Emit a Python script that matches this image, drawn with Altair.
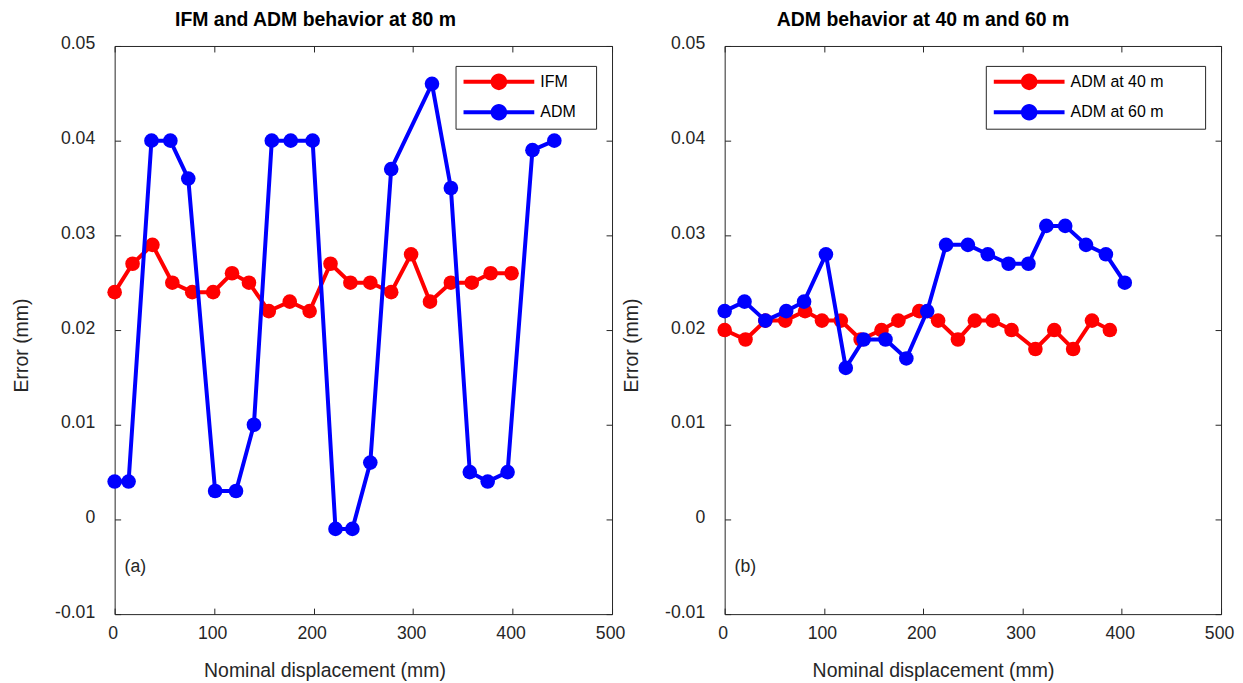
import altair as alt
import pandas as pd

# ---------------- data ----------------
ifm80_x = [0, 18, 38, 58, 78, 99, 118, 135, 155, 176, 196, 217, 237, 257, 278, 298, 317, 338, 359, 378, 399]
ifm80_y = [0.024, 0.027, 0.029, 0.025, 0.024, 0.024, 0.026, 0.025, 0.022, 0.023, 0.022,
           0.027, 0.025, 0.025, 0.024, 0.028, 0.023, 0.025, 0.025, 0.026, 0.026]

adm80_x = [0, 14, 37, 56, 74, 101, 122, 140, 158, 177, 199, 222, 239, 257, 278, 319, 338, 357, 375, 395, 420, 442]
adm80_y = [0.004, 0.004, 0.040, 0.040, 0.036, 0.003, 0.003, 0.010, 0.040, 0.040, 0.040,
           -0.001, -0.001, 0.006, 0.037, 0.046, 0.035, 0.005, 0.004, 0.005, 0.039, 0.040]

adm40_x = [0, 21, 41, 61, 81, 98, 117, 137, 158, 175, 196, 215, 235, 252, 270, 289, 313, 332, 351, 370, 388]
adm40_y = [0.020, 0.019, 0.021, 0.021, 0.022, 0.021, 0.021, 0.019, 0.020, 0.021, 0.022,
           0.021, 0.019, 0.021, 0.021, 0.020, 0.018, 0.020, 0.018, 0.021, 0.020]

adm60_x = [0, 20, 41, 62, 80, 102, 122, 140, 162, 183, 204, 223, 245, 265, 286, 306, 324, 343, 364, 384, 403]
adm60_y = [0.022, 0.023, 0.021, 0.022, 0.023, 0.028, 0.016, 0.019, 0.019, 0.017, 0.022,
           0.029, 0.029, 0.028, 0.027, 0.027, 0.031, 0.031, 0.029, 0.028, 0.025]

left_series = ["IFM", "ADM"]
right_series = ["ADM at 40 m", "ADM at 60 m"]
series_colors = ["#FF0000", "#0000FF"]

x_ticks = [0, 100, 200, 300, 400, 500]
y_ticks = [-0.01, 0.0, 0.01, 0.02, 0.03, 0.04, 0.05]

panel_titles = ["IFM and ADM behavior at 80 m", "ADM behavior at 40 m and 60 m"]
panel_tags = ["(a)", "(b)"]
tag_x = [10, 10]
tag_y = [-0.005, -0.005]

# ---------------- styling ----------------
FONT = "Liberation Sans"
AX = "#262626"


def legend_path(extent):
    # line (thin filled bar) + filled circle; trailing move-to sets the legend box width
    return ("M-5.46,-0.3077L5.46,-0.3077L5.46,0.3077L-5.46,0.3077Z"
            "M1.277,0A1.277,1.277,0,1,1,-1.277,0A1.277,1.277,0,1,1,1.277,0Z"
            "M%.2f,0" % extent)


def long_df(names, xs_list, ys_list):
    rows = []
    for n, xs, ys in zip(names, xs_list, ys_list):
        for xv, yv in zip(xs, ys):
            rows.append({"series": n, "x": xv, "y": yv})
    return pd.DataFrame(rows)


left_df = long_df(left_series, [ifm80_x, adm80_x], [ifm80_y, adm80_y])
right_df = long_df(right_series, [adm40_x, adm60_x], [adm40_y, adm60_y])

YLABEL_EXPR = ("datum.value == 0 ? '0' : (datum.value < 0 ? '-' + format(-datum.value, '.2f') "
               ": format(datum.value, '.2f'))")


def panel(df, names, title, title_dx, tag, tx, ty, legend_x, extent, xtitle_x, w):
    xs = alt.Scale(domain=[0, 500], nice=False, zero=False)
    ys = alt.Scale(domain=[-0.01, 0.05], nice=False, zero=False)
    legend = alt.Legend(
        title=None, orient="none", legendX=legend_x, legendY=20,
        symbolType=legend_path(extent), symbolSize=169, symbolStrokeWidth=0,
        symbolOffset=27.5, labelOffset=33.5, labelFontSize=16, labelFont=FONT,
        labelColor="#000000", padding=8, rowPadding=12.4,
        strokeColor=AX, fillColor="white", cornerRadius=0,
    )
    color = alt.Color("series:N", scale=alt.Scale(domain=names, range=series_colors), legend=legend)

    bottom = alt.Axis(orient="bottom", values=x_ticks, title="Nominal displacement (mm)",
                      titleX=xtitle_x, offset=-6, tickSize=6, labelPadding=10.5, titlePadding=19.5,
                      labelFlush=False, labelOffset=-2, domain=False, grid=False)
    left = alt.Axis(orient="left", values=y_ticks, title="Error (mm)", titleY=300,
                    labelExpr=YLABEL_EXPR, offset=-6, tickSize=6, labelPadding=20,
                    titlePadding=23, labelOffset=-2, labelFlush=False, domain=False, grid=False)
    top = alt.Axis(orient="top", values=x_ticks, labels=False, title=None, offset=-6,
                   tickSize=6, domain=False, grid=False)
    right = alt.Axis(orient="right", values=y_ticks, labels=False, title=None, offset=-6,
                     tickSize=6, domain=False, grid=False)

    layers = []
    for i, n in enumerate(names):
        sub = alt.Chart(df).transform_filter(alt.datum.series == n)
        line = sub.mark_line(strokeWidth=4, opacity=1).encode(
            x=alt.X("x:Q", scale=xs, axis=bottom if i == 0 else None),
            y=alt.Y("y:Q", scale=ys, axis=left if i == 0 else None),
            color=color,
            order="x:Q",
        )
        pts = sub.mark_circle(size=215, opacity=1).encode(
            x=alt.X("x:Q", scale=xs, axis=top if i == 0 else None),
            y=alt.Y("y:Q", scale=ys, axis=right if i == 0 else None),
            color=color,
        )
        layers += [line, pts]

    tag_df = pd.DataFrame({"x": [tx], "y": [ty], "t": [tag]})
    txt = alt.Chart(tag_df).mark_text(align="left", baseline="middle", fontSize=17.7,
                                      font=FONT, color=AX).encode(
        x=alt.X("x:Q", scale=xs, axis=None),
        y=alt.Y("y:Q", scale=ys, axis=None),
        text="t:N",
    )
    layers.append(txt)

    return alt.layer(*layers).resolve_axis(x="independent", y="independent").properties(
        width=w, height=570,
        title=alt.TitleParams(title, fontSize=19.5, fontWeight="bold", font=FONT, color="#000000",
                              anchor="middle", frame="group", dx=title_dx, offset=5),
    )


p1 = panel(left_df, left_series, panel_titles[0], -48, panel_tags[0], tag_x[0], tag_y[0],
           342, 13.7, 210.5, 499)
p2 = panel(right_df, right_series, panel_titles[1], -50, panel_tags[1], tag_x[1], tag_y[1],
           262, 25.85, 209, 498)

chart = alt.hconcat(p1, p2, spacing=113, bounds="flush").resolve_scale(
    color="independent"
).resolve_legend(color="independent").properties(
    padding={"left": 3, "top": 0, "right": 0, "bottom": 0},
    background="white",
).configure_view(stroke=AX, strokeWidth=1).configure_axis(
    labelFont=FONT, titleFont=FONT, labelColor=AX, titleColor=AX, tickColor=AX,
    labelFontSize=17.7, titleFontSize=19.5, titleFontWeight="normal", tickWidth=1,
)

chart.save("out.html", embed_options={"renderer": "svg", "actions": False})
